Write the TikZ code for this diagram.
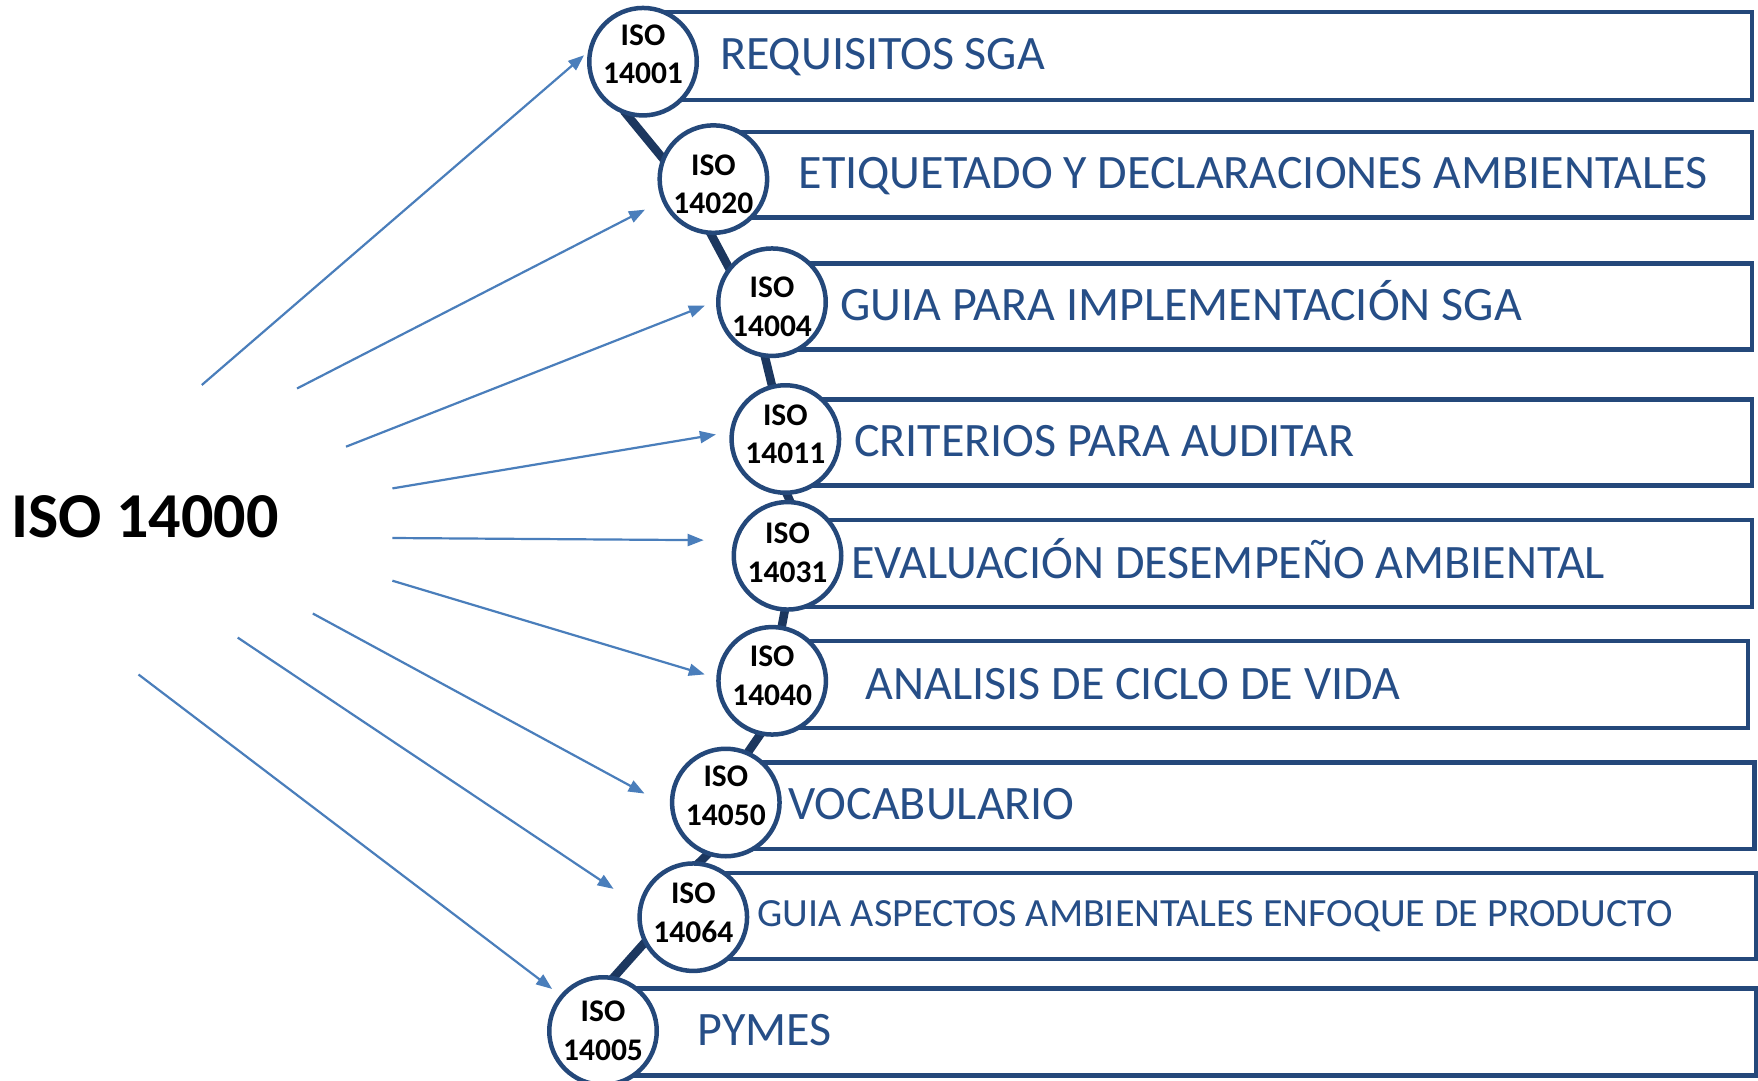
\documentclass[tikz,border=0pt]{standalone}
\usepackage{fontspec}
\setmainfont{Carlito}
\usetikzlibrary{arrows.meta,backgrounds}
\definecolor{isonavy}{RGB}{36,72,122}
\definecolor{isotext}{RGB}{38,78,135}
\definecolor{isochain}{RGB}{28,55,95}
\definecolor{isoarrow}{RGB}{74,126,187}
\definecolor{isoglowblue}{RGB}{175,198,230}
\pgfdeclareradialshading{isoglow}{\pgfpoint{0bp}{0bp}}{color(0bp)=(white); color(38bp)=(white); color(50bp)=(isoglowblue)}

\begin{document}
\begin{tikzpicture}[x=1pt,y=-1pt]
\tikzset{band/.style={draw=isonavy, line width=4.5pt},
	isocirc/.style={circle, draw=isonavy, line width=4.5pt, fill=white, minimum size=107.5pt, inner sep=0pt},
	flat/.style={},
	glow/.style={shade, shading=isoglow},
	isotxt/.style={font=\fontsize{31.5}{38.5}\selectfont\bfseries, align=center, inner sep=0pt},
	tag/.style={font=\fontsize{48}{57}\selectfont, text=isotext, inner sep=0pt, anchor=base west},
	chain/.style={draw=isochain, line width=8.5pt, shorten <=-6pt, shorten >=-6pt},
	feed/.style={draw=isoarrow, line width=2.2pt, -{Triangle[length=16pt,width=12pt]}}}
	\useasboundingbox (0,0) rectangle (1758,1081);
	\node[font=\fontsize{64}{76}\selectfont\bfseries, inner sep=0pt, anchor=base west] (root) at (11,537.3) {ISO 14000};
	\foreach \num/\cx/\cy/\dy/\sty/\top/\bot/\rgt/\tx/\ty/\lbl in {
		14001/643/61.7/-7.4/flat/12/100/1752/720/70/REQUISITOS SGA,
		14020/713.4/179.1/5/flat/132/217.7/1752/798.5/188.7/ETIQUETADO Y DECLARACIONES AMBIENTALES,
		14004/772/302.2/4.8/flat/263.5/349.6/1752/840.5/320/GUIA PARA IMPLEMENTACIÓN SGA,
		14011/785.3/439/-4.7/flat/399.5/485.6/1752/854/456.7/CRITERIOS PARA AUDITAR,
		14031/787.5/555.8/-3.1/flat/520/607/1752/851/578/EVALUACIÓN DESEMPEÑO AMBIENTAL,
		14040/772.2/680.8/-4.8/flat/641/728/1748/865.5/699.4/ANALISIS DE CICLO DE VIDA,
		14050/725.8/802.5/-6.5/glow/762.5/848.8/1754.5/788/819.3/VOCABULARIO,
		14064/693.3/917.2/-4.5/glow/873/959/1756/757.5/926.7/{\fontsize{40}{48}\selectfont GUIA ASPECTOS AMBIENTALES ENFOQUE DE PRODUCTO},
		14005/603/1031/0/glow/988.5/1075.5/1756/697.5/1045/PYMES}
	{
		\draw[band] (\cx,\top) rectangle (\rgt,\bot);
		\node[isocirc,\sty] (iso\num) at (\cx,\cy) {};
		\node[isotxt] (num\num) at (\cx,\cy+\dy) {ISO\\\num};
		\node[tag] (tag\num) at (\tx,\ty) {\lbl};
	}
	\begin{scope}[on background layer]
		\foreach \a/\b in {14001.254/14020.157, 14020.268/14004.141, 14004.263/14011.104, 14011.272/14031.88,
			14031.267/14040.80, 14040.257/14050.66, 14050.250/14064.83, 14064.208/14005.78}
			\draw[chain] (iso\a) -- (iso\b);
	\end{scope}
	\foreach \i/\sx/\sy/\num/\ang/\gap in {1/201.8/385/14001/170/5, 2/297/388.5/14020/203/19,
		3/346/446.7/14004/179/12, 4/392.4/488.4/14011/173/14, 5/392.4/538/14031/164/30,
		6/392.4/580.7/14040/177/12, 7/312.8/613.5/14050/185/29, 8/237.7/637.6/14064/168/30,
		9/138.5/674.5/14005/140/10}
	{
		\coordinate (src\i) at (\sx,\sy);
		\draw[feed, shorten >=\gap pt] (src\i) -- (iso\num.\ang);
	}
\end{tikzpicture}
\end{document}
